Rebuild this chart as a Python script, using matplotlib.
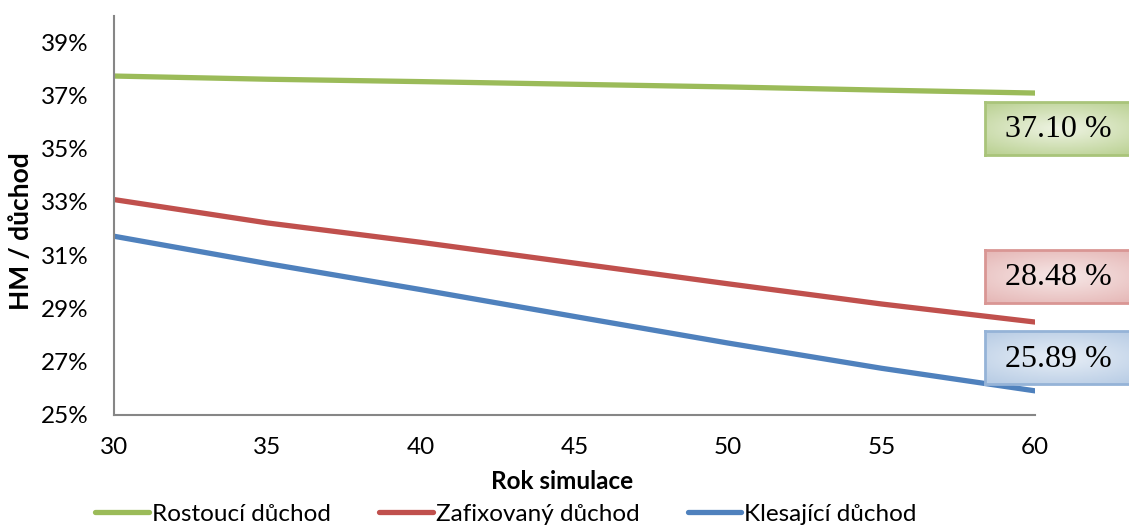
import numpy as np
import matplotlib.pyplot as plt
from matplotlib.colors import to_rgb
from matplotlib.ticker import FuncFormatter, MultipleLocator

plt.rcParams['font.family'] = ['Lato', 'DejaVu Sans']

years = [30, 35, 40, 45, 50, 55, 60]
rostouci = [37.74, 37.62, 37.53, 37.43, 37.33, 37.21, 37.10]
zafixovany = [33.09, 32.21, 31.48, 30.70, 29.92, 29.16, 28.48]
klesajici = [31.71, 30.68, 29.70, 28.69, 27.69, 26.74, 25.89]

names = ['Rostoucí důchod', 'Zafixovaný důchod', 'Klesající důchod']
line_colors = ['#9BBB59', '#C0504D', '#4F81BD']
box_fill = ['#e6eed5', '#f2dcdb', '#dce6f2']
box_edge = ['#a9c47a', '#d99694', '#95b3d7']
box_dark = ['#bcd295', '#e6b9b8', '#b9cde5']
# vertical offset of the value box above the line end (pixels)
box_lift = [-35, 46, 33]

fig = plt.figure(figsize=(11.29, 5.28), dpi=100)
ax = fig.add_axes([114 / 1129, 1 - 414.5 / 528, (1035 - 114) / 1129, (414.5 - 16) / 528])

series = [rostouci, zafixovany, klesajici]
for vals, name, c in zip(series, names, line_colors):
    ax.plot(years, vals, color=c, lw=3.8, solid_capstyle='round', label=name)

ax.set_xlim(30, 60)
ax.set_ylim(25, 40)
ax.xaxis.set_major_locator(MultipleLocator(5))
ax.set_yticks(np.arange(25, 40, 2))
ax.yaxis.set_major_formatter(FuncFormatter(lambda v, p: '%d%%' % v))
ax.tick_params(length=0, labelsize=17.5, colors='#000000')
ax.tick_params(axis='y', pad=18)
ax.tick_params(axis='x', pad=16)
for s in ['top', 'right']:
    ax.spines[s].set_visible(False)
for s in ['left', 'bottom']:
    ax.spines[s].set_color('#868686')
    ax.spines[s].set_linewidth(1.5)

ax.set_xlabel('Rok simulace', fontsize=17.5, fontweight='bold')
ax.xaxis.set_label_coords(0.486, -0.14)
ax.set_ylabel('HM / důchod', fontsize=19, fontweight='bold')
ax.yaxis.set_label_coords(-0.088, 0.46)

fig.legend(loc='center', bbox_to_anchor=(506 / 1129, 1 - 514 / 528), ncol=3,
           frameon=False, fontsize=17.5, handlelength=2.2, handletextpad=0.12,
           columnspacing=2.0, borderpad=0.1)

# value boxes at the end of each line
fig.canvas.draw()
W, H = fig.get_size_inches() * fig.dpi
for vals, fill, edge, dark, lift in zip(series, box_fill, box_edge, box_dark, box_lift):
    end = vals[-1]
    px, py = ax.transData.transform((years[-1], end))
    cy = py + lift
    x0, w, h = 985, 150, 53
    bax = fig.add_axes([x0 / W, (cy - h / 2) / H, w / W, h / H])
    gx = np.linspace(-1, 1, 120)
    gy = np.linspace(-1, 1, 40)
    gxx, gyy = np.meshgrid(gx, gy)
    r = np.clip(np.sqrt((gxx * 0.8) ** 2 + gyy ** 2) / 1.2, 0, 1)
    c0 = np.array(to_rgb('#ffffff')) * 0.35 + np.array(to_rgb(fill)) * 0.65
    c1 = np.array(to_rgb(dark))
    img = c0[None, None, :] * (1 - r[..., None]) + c1[None, None, :] * r[..., None]
    bax.imshow(img, aspect='auto', extent=(0, 1, 0, 1))
    bax.set_xticks([])
    bax.set_yticks([])
    for s in bax.spines.values():
        s.set_color(edge)
        s.set_linewidth(2)
    bax.text(0.49, 0.47, '%.2f %%' % end, ha='center', va='center',
             fontsize=23, family=['Liberation Serif', 'DejaVu Serif'], transform=bax.transAxes)

fig.savefig('out.png', dpi=100)
